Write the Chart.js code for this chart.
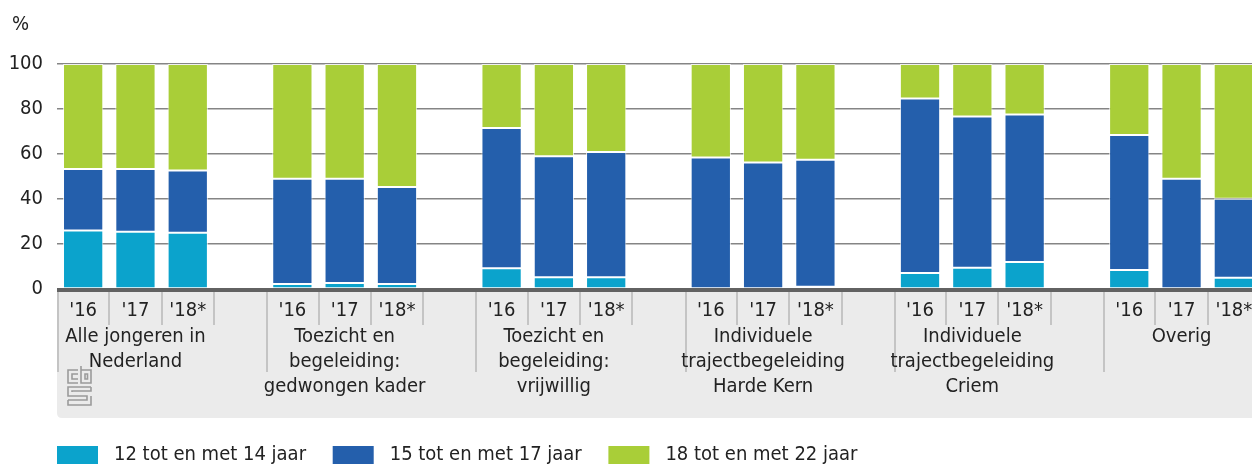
<!DOCTYPE html>
<html>
<head>
<meta charset="utf-8">
<script src="https://cdn.jsdelivr.net/npm/chart.js@4"></script>
<style>
  html, body { margin: 0; padding: 0; background: #fff; overflow: hidden; }
  #wrap { position: relative; width: 1260px; height: 464px; }
</style>
</head>
<body>
<div id="wrap"><canvas id="myChart"></canvas></div>
<script>
const years = ["'16", "'17", "'18*"];
const groups = [
  ['Alle jongeren in', 'Nederland'],
  ['Toezicht en', 'begeleiding:', 'gedwongen kader'],
  ['Toezicht en', 'begeleiding:', 'vrijwillig'],
  ['Individuele', 'trajectbegeleiding', 'Harde Kern'],
  ['Individuele', 'trajectbegeleiding', 'Criem'],
  ['Overig']
];
const seriesNames = ['12 tot en met 14 jaar', '15 tot en met 17 jaar', '18 tot en met 22 jaar'];
const age12to14 = [26.0, 25.5, 25.0, 2.2, 2.7, 2.2, 9.2, 5.2, 5.2, 0, 0.3, 1.0, 7.1, 9.4, 12.0, 8.5, 0, 5.0];
const age15to17 = [27.3, 27.8, 27.7, 46.8, 46.3, 43.1, 62.4, 53.8, 55.7, 58.4, 55.9, 56.5, 77.6, 67.3, 65.6, 60.0, 49.0, 35.1];
const age18to22 = [46.7, 46.7, 47.3, 51.0, 51.0, 54.7, 28.4, 41.0, 39.1, 41.6, 43.8, 42.5, 15.3, 23.3, 22.4, 31.5, 51.0, 59.9];
const yTicks = [0, 20, 40, 60, 80, 100];

const colors = ['#0ba3cc', '#245fac', '#a9ce38'];
const FONT = "'Liberation Sans Narrow', 'DejaVu Sans Condensed', 'Roboto', sans-serif";

// one empty category between groups
const labels = [];
groups.forEach((g, gi) => {
  years.forEach(y => labels.push(y));
  if (gi < groups.length - 1) labels.push('');
});
function withGaps(values) {
  const out = [];
  groups.forEach((g, gi) => {
    for (let k = 0; k < years.length; k++) out.push(values[gi * years.length + k]);
    if (gi < groups.length - 1) out.push(null);
  });
  return out;
}

const axisPlugin = {
  id: 'axisBand',
  afterDatasetsDraw(chart) {
    const ctx = chart.ctx;
    const x = chart.scales.x;
    const y = chart.scales.y;
    const left = chart.chartArea.left;
    const right = chart.width;
    const base = y.getPixelForValue(0);
    const step = x.getPixelForValue(1) - x.getPixelForValue(0);
    ctx.save();
    // band
    const bTop = base + 3, bBot = 418, r = 5;
    ctx.fillStyle = '#ebebeb';
    ctx.beginPath();
    ctx.moveTo(left, bTop);
    ctx.lineTo(right, bTop);
    ctx.lineTo(right, bBot);
    ctx.lineTo(left + r, bBot);
    ctx.quadraticCurveTo(left, bBot, left, bBot - r);
    ctx.closePath();
    ctx.fill();
    // zero line
    ctx.fillStyle = '#626262';
    ctx.fillRect(left, base - 1, right - left, 4);
    // separators
    ctx.strokeStyle = '#c4c4c4';
    ctx.lineWidth = 2;
    for (let i = 0; i < labels.length; i++) {
      const bx = Math.round(x.getPixelForValue(i) - step / 2);
      const groupStart = i % (years.length + 1) === 0;
      ctx.beginPath();
      ctx.moveTo(bx + (groupStart ? 1 : 0), bTop);
      ctx.lineTo(bx + (groupStart ? 1 : 0), groupStart ? 372 : 325);
      ctx.stroke();
    }
    // year labels
    ctx.fillStyle = '#222';
    ctx.font = '20px ' + FONT;
    ctx.textAlign = 'center';
    ctx.textBaseline = 'middle';
    labels.forEach((l, i) => {
      if (l) ctx.fillText(l, x.getPixelForValue(i), 311);
    });
    // group labels
    groups.forEach((g, gi) => {
      const cx = x.getPixelForValue(gi * (years.length + 1) + 1);
      g.forEach((line, li) => ctx.fillText(line, cx, 337 + li * 25));
    });
    // cbs logo
    ctx.strokeStyle = '#9b9b9b';
    ctx.lineWidth = 1.6;
    ctx.beginPath();
    ctx.moveTo(78, 370); ctx.lineTo(68, 370); ctx.lineTo(68, 383); ctx.lineTo(78, 383);
    ctx.moveTo(78, 374); ctx.lineTo(72, 374); ctx.lineTo(72, 379); ctx.lineTo(78, 379);
    ctx.moveTo(81, 366); ctx.lineTo(81, 383); ctx.lineTo(91, 383); ctx.lineTo(91, 370); ctx.lineTo(81, 370);
    ctx.rect(85, 374, 2.5, 5);
    ctx.moveTo(91, 387); ctx.lineTo(68, 387); ctx.lineTo(68, 396); ctx.lineTo(87, 396); ctx.lineTo(87, 400); ctx.lineTo(68, 400);
    ctx.moveTo(91, 387); ctx.lineTo(91, 391); ctx.lineTo(72, 391); ctx.lineTo(72, 392);
    ctx.moveTo(68, 400); ctx.lineTo(68, 405); ctx.lineTo(91, 405); ctx.lineTo(91, 396);
    ctx.stroke();
    // legend
    ctx.textAlign = 'left';
    chart.data.datasets.forEach((ds, i) => {
      const lx = left + i * 275.7;
      ctx.fillStyle = ds.backgroundColor;
      ctx.fillRect(lx, 446, 41, 18);
      ctx.fillStyle = '#222';
      ctx.fillText(ds.label, lx + 57, 455);
    });
    // unit
    ctx.fillText('%', 12, 25);
    ctx.restore();
  }
};

const ctx = document.getElementById('myChart');

const chart = new Chart(ctx, {
  type: 'bar',
  data: {
    labels: labels,
    datasets: [
      { label: seriesNames[0], data: withGaps(age12to14), backgroundColor: colors[0] },
      { label: seriesNames[1], data: withGaps(age15to17), backgroundColor: colors[1] },
      { label: seriesNames[2], data: withGaps(age18to22), backgroundColor: colors[2] }
    ].map(d => Object.assign(d, {
      borderColor: 'rgba(255,255,255,0.75)',
      borderWidth: 1,
      borderSkipped: false,
      barPercentage: 0.77,
      categoryPercentage: 1
    }))
  },
  options: {
    responsive: true,
    maintainAspectRatio: false,
    animation: false,
    layout: { padding: { top: 64, left: 0, right: 0, bottom: 0 } },
    plugins: { legend: { display: false }, tooltip: { enabled: false } },
    scales: {
      x: {
        stacked: true,
        grid: { display: false },
        border: { display: false },
        ticks: { display: false },
        afterFit: s => { s.height = 175; }
      },
      y: {
        stacked: true,
        min: 0,
        max: 100,
        afterFit: s => { s.width = 57; },
        afterBuildTicks: s => { s.ticks = yTicks.map(v => ({ value: v })); },
        border: { display: false },
        grid: { color: '#858585', lineWidth: 1.5, drawTicks: false },
        ticks: {
          padding: 14,
          color: '#222',
          font: { family: FONT, size: 20 }
        }
      }
    }
  },
  plugins: [axisPlugin]
});
</script>
</body>
</html>
